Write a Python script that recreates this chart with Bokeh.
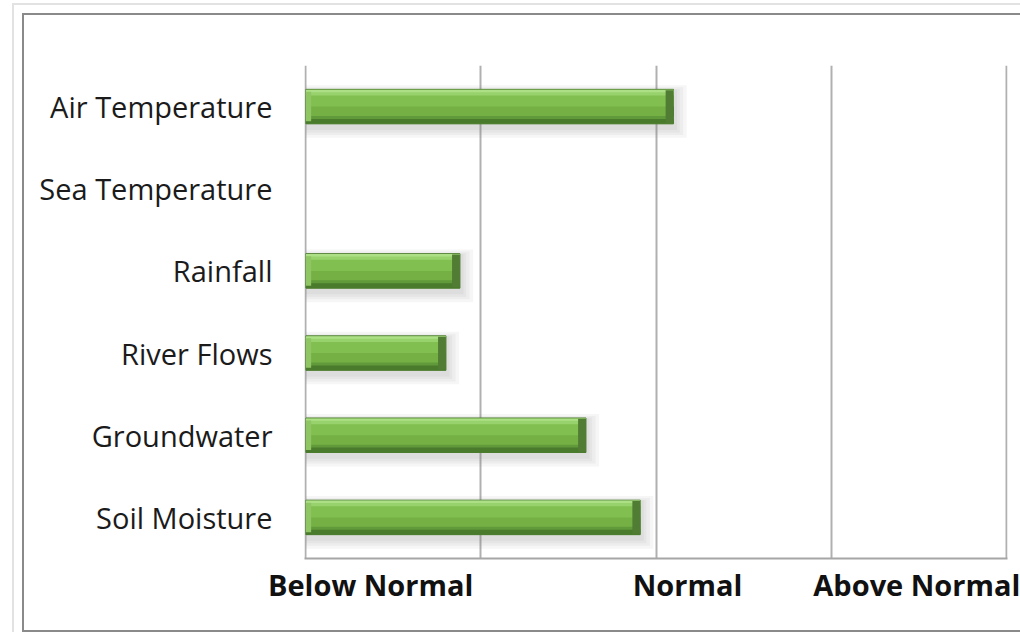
from bokeh.plotting import figure
from bokeh.models import FactorRange, Range1d, FixedTicker, ColumnDataSource
from bokeh.transform import dodge
from bokeh.embed import file_html
from bokeh.resources import INLINE

# ---- data ----
categories = ["Air Temperature", "Sea Temperature", "Rainfall", "River Flows", "Groundwater", "Soil Moisture"]
values = [2.10, None, 0.88, 0.80, 1.60, 1.91]
tick_labels = ["Below Normal", "Normal", "Above Normal"]
tick_positions = [0.37, 2.18, 3.49]
grid_positions = [0, 1, 2, 3, 4]

cats = [c for c, v in zip(categories, values) if v is not None]
vals = [v for v in values if v is not None]

FONT = "Open Sans"

p = figure(
    frame_width=703, frame_height=493,
    min_border_left=280, min_border_right=13, min_border_top=50, min_border_bottom=72,
    y_range=FactorRange(*reversed(categories)),
    x_range=Range1d(-0.008, 4.008),
    output_backend="svg", toolbar_location=None,
)
p.margin = (13, 0, 0, 22)
p.styles = {
    "border-left": "2px solid #8a8a8a",
    "border-top": "2px solid #8a8a8a",
    "border-bottom": "2px solid #8a8a8a",
    "outline": "2px solid #e2e2e2",
    "outline-offset": "8px",
}
p.outline_line_color = None
p.background_fill_color = "white"
p.border_fill_color = "white"

# grid
p.ygrid.grid_line_color = None
p.xgrid.ticker = FixedTicker(ticks=grid_positions)
p.xgrid.grid_line_color = "#b0b0b0"
p.xgrid.grid_line_width = 2

# x axis
p.xaxis.ticker = FixedTicker(ticks=tick_positions)
p.xaxis.major_label_overrides = {t: l for t, l in zip(tick_positions, tick_labels)}
p.xaxis.major_tick_line_color = None
p.xaxis.minor_tick_line_color = None
p.xaxis.axis_line_color = "#a6a6a6"
p.xaxis.axis_line_width = 2
p.xaxis.major_label_text_font = FONT
p.xaxis.major_label_text_font_style = "bold"
p.xaxis.major_label_text_font_size = "29px"
p.xaxis.major_label_text_color = "#111111"
p.xaxis.major_label_standoff = 0

# y axis
p.yaxis.axis_line_color = None
p.yaxis.major_tick_line_color = None
p.yaxis.minor_tick_line_color = None
p.yaxis.major_label_text_font = FONT
p.yaxis.major_label_text_font_size = "29px"
p.yaxis.major_label_text_color = "#1b1b1b"
p.yaxis.major_label_standoff = 26

src = ColumnDataSource(dict(
    cat=cats,
    val=vals,
    zero=[0.0] * len(vals),
    sh1=[v + 0.075 for v in vals],
    sh2=[v + 0.055 for v in vals],
    sh3=[v + 0.035 for v in vals],
    sh4=[v + 0.02 for v in vals],
    cap=[v - 0.045 for v in vals],
    lbev=[0.03] * len(vals),
))

yr = p.y_range
# soft shadow
for off, h, r in [(-0.06, 0.64, "sh1"), (-0.055, 0.58, "sh2"), (-0.05, 0.53, "sh3"), (-0.04, 0.49, "sh4")]:
    p.hbar(y=dodge("cat", off, range=yr), height=h, left="zero", right=r, source=src,
           fill_color="#808080", fill_alpha=0.07, line_color=None)

# main body
p.hbar(y="cat", height=0.42, left="zero", right="val", source=src,
       fill_color="#74b044", line_color="#4d7d2f", line_width=1)
# upper lighter zone
p.hbar(y=dodge("cat", 0.09, range=yr), height=0.18, left="zero", right="val", source=src,
       fill_color="#80bf50", line_color=None)
# top highlight bands
p.hbar(y=dodge("cat", 0.165, range=yr), height=0.06, left="zero", right="val", source=src,
       fill_color="#98d26c", line_color=None)
p.hbar(y=dodge("cat", 0.19, range=yr), height=0.03, left="zero", right="val", source=src,
       fill_color="#addf86", line_color=None)
# bottom dark bands
p.hbar(y=dodge("cat", -0.14, range=yr), height=0.05, left="zero", right="val", source=src,
       fill_color="#609a3a", line_color=None)
p.hbar(y=dodge("cat", -0.18, range=yr), height=0.06, left="zero", right="val", source=src,
       fill_color="#4a7a2c", line_color=None)
# right end cap
p.hbar(y="cat", height=0.40, left="cap", right="val", source=src,
       fill_color="#517c33", line_color=None)
# left bevel
p.hbar(y="cat", height=0.36, left="zero", right="lbev", source=src,
       fill_color="#8fc663", line_color=None)

open("out.html", "w").write(file_html(p, INLINE))
